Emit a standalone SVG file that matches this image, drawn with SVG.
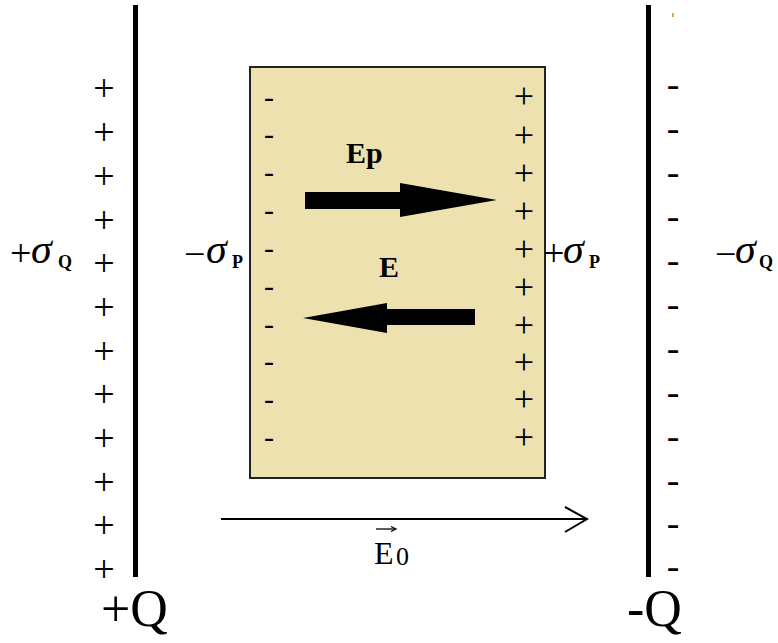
<svg xmlns="http://www.w3.org/2000/svg" width="778" height="643" viewBox="0 0 778 643">
<style>
text{font-family:'Liberation Serif','DejaVu Serif','Times New Roman',serif;fill:#000}
.pl{font-size:38px;text-anchor:middle}
.bp{font-size:36px;text-anchor:middle}
.mi{font-size:38px;text-anchor:middle}
.bm{font-size:30px;text-anchor:middle}
.op{font-size:38px}
.sig{font-size:42px;font-style:italic}
.sub{font-size:18px;font-weight:bold}
.big{font-size:52px}
.bold{font-size:30px;font-weight:bold}
.plate{fill:#000}
</style>
<rect width="778" height="643" fill="#fff"/>
<g id="left-plate">
<rect class="plate" x="133" y="5" width="5" height="572"/>
<g>
<text class="pl" x="104" y="101">+</text><text class="pl" x="104" y="145">+</text><text class="pl" x="104" y="189">+</text><text class="pl" x="104" y="233">+</text>
<text class="pl" x="104" y="276">+</text><text class="pl" x="104" y="320">+</text><text class="pl" x="104" y="364">+</text><text class="pl" x="104" y="407">+</text>
<text class="pl" x="104" y="451">+</text><text class="pl" x="104" y="495">+</text><text class="pl" x="104" y="538">+</text><text class="pl" x="104" y="582">+</text>
</g>
<text x="10" y="266"><tspan class="op">+</tspan><tspan class="sig" x="31" y="263">σ</tspan><tspan class="sub" x="58" y="268">Q</tspan></text>
<text class="big" x="101" y="626">+Q</text>
</g>
<g id="right-plate">
<rect class="plate" x="646" y="5" width="5" height="572"/>
<rect x="672" y="13" width="2" height="4" fill="#f0a050"/>
<g>
<text class="mi" x="673" y="97">-</text><text class="mi" x="673" y="141">-</text><text class="mi" x="673" y="185">-</text><text class="mi" x="673" y="229">-</text>
<text class="mi" x="673" y="273">-</text><text class="mi" x="673" y="317">-</text><text class="mi" x="673" y="361">-</text><text class="mi" x="673" y="405">-</text>
<text class="mi" x="673" y="449">-</text><text class="mi" x="673" y="493">-</text><text class="mi" x="673" y="536">-</text><text class="mi" x="673" y="579">-</text>
</g>
<text x="715" y="267"><tspan class="op">−</tspan><tspan class="sig" x="735" y="263">σ</tspan><tspan class="sub" x="759" y="268">Q</tspan></text>
<text class="big" x="627" y="626">-Q</text>
</g>
<g id="dielectric">
<rect x="250" y="67" width="295" height="411" fill="#EDE1AF" stroke="#222" stroke-width="2"/>
<g>
<text class="bm" x="269" y="107">-</text><text class="bm" x="269" y="144">-</text><text class="bm" x="269" y="182">-</text><text class="bm" x="269" y="220">-</text><text class="bm" x="269" y="258">-</text>
<text class="bm" x="269" y="296">-</text><text class="bm" x="269" y="334">-</text><text class="bm" x="269" y="371">-</text><text class="bm" x="269" y="409">-</text><text class="bm" x="269" y="447">-</text>
</g>
<g>
<text class="bp" x="524" y="108">+</text><text class="bp" x="524" y="147">+</text><text class="bp" x="524" y="185">+</text><text class="bp" x="524" y="223">+</text><text class="bp" x="524" y="261">+</text>
<text class="bp" x="524" y="299">+</text><text class="bp" x="524" y="337">+</text><text class="bp" x="524" y="374">+</text><text class="bp" x="524" y="411">+</text><text class="bp" x="524" y="449">+</text>
</g>
<text x="184" y="267"><tspan class="op">−</tspan><tspan class="sig" x="206" y="263">σ</tspan><tspan class="sub" x="232" y="268">P</tspan></text>
<text x="543" y="266"><tspan class="op">+</tspan><tspan class="sig" x="563" y="263">σ</tspan><tspan class="sub" x="589" y="268">P</tspan></text>
</g>
<g id="arrow-Ep">
<polygon points="305,192 400,192 400,183 497,200 400,217 400,209 305,209" fill="#000"/>
<text class="bold" x="346" y="163">Ep</text>
</g>
<g id="arrow-E">
<polygon points="475,309 387,309 387,303 303,318 387,333 387,325 475,325" fill="#000"/>
<text class="bold" x="379" y="277">E</text>
</g>
<g id="connectors">
<g id="E0-field">
<line x1="221" y1="519" x2="586" y2="519" stroke="#000" stroke-width="2"/>
<polyline points="565,507 587,519 565,532" fill="none" stroke="#000" stroke-width="2"/>
</g>
</g>
<g id="E0-label">
<line x1="376" y1="529" x2="395" y2="529" stroke="#000" stroke-width="1.3"/>
<polyline points="391,526.5 396,529 391,531.5" fill="none" stroke="#000" stroke-width="1.2"/>
<text x="374" y="564" style="font-size:32px">E<tspan style="font-size:26px" x="396" y="565">0</tspan></text>
</g>
</svg>
